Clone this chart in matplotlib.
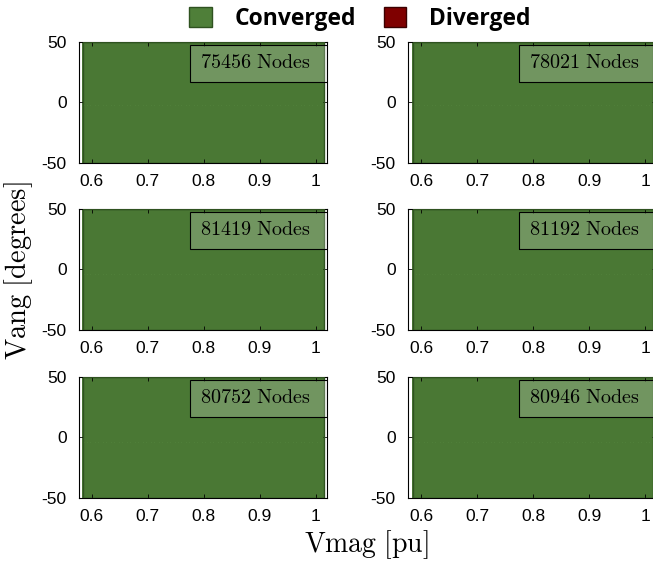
#!/usr/bin/env python3
"""Convergence region maps (Vmag x Vang) for six network sizes."""

import matplotlib

matplotlib.use("Agg")
import matplotlib.pyplot as plt
import numpy as np
from matplotlib.patches import Patch, Rectangle

# initial-condition sweep (every point converged in all six cases)
node_counts = [75456, 78021, 81419, 81192, 80752, 80946]
vmag_bounds = [0.585, 1.015]
vang_bounds = [-50, 50]
n_vmag = 90
n_vang = 60
statuses = ["converged"] * len(node_counts)

vmag_ticks = [0.6, 0.7, 0.8, 0.9, 1.0]
vmag_ticklabels = ["0.6", "0.7", "0.8", "0.9", "1"]
vang_ticks = [-50, 0, 50]

GREEN = "#4f7f39"
GREEN_EDGE = "#4a7834"
RED = "#7f0000"

plt.rcParams["axes.unicode_minus"] = False
plt.rcParams["mathtext.fontset"] = "cm"
plt.rcParams["font.family"] = ["Liberation Sans", "DejaVu Sans"]

fig = plt.figure(figsize=(6.53, 5.63), dpi=100)

col_left = [0.121, 0.625]
row_bottom = [0.7105, 0.4139, 0.1155]
ax_w, ax_h = 0.380, 0.215

for i, (nodes, status) in enumerate(zip(node_counts, statuses)):
    r, c = divmod(i, 2)
    ax = fig.add_axes([col_left[c], row_bottom[r], ax_w, ax_h])
    x_edges = np.linspace(vmag_bounds[0], vmag_bounds[1], n_vmag + 1)
    y_edges = np.linspace(vang_bounds[0], vang_bounds[1], n_vang + 1)
    grid = np.full((n_vang, n_vmag), 1.0 if status == "converged" else 0.0)
    cmap = matplotlib.colors.ListedColormap([RED, GREEN])
    ax.pcolormesh(x_edges, y_edges, grid, cmap=cmap, vmin=0, vmax=1,
                  edgecolors=GREEN_EDGE, linewidth=0.2)
    ax.add_patch(Rectangle((vmag_bounds[0], vang_bounds[0]),
                           vmag_bounds[1] - vmag_bounds[0],
                           vang_bounds[1] - vang_bounds[0],
                           fill=False, edgecolor="#2f5220", linewidth=1.0, zorder=3))
    ax.set_xlim(0.577, 1.02)
    ax.set_ylim(-50, 50)
    ax.set_xticks(vmag_ticks)
    ax.set_xticklabels(vmag_ticklabels)
    ax.set_yticks(vang_ticks)
    ax.tick_params(direction="in", length=3, width=0.6, labelsize=12.5,
                   top=True, right=True)
    ax.tick_params(axis="x", pad=8)
    ax.tick_params(axis="y", pad=9)
    for sp in ax.spines.values():
        sp.set_linewidth(0.8)

    ax.add_patch(Rectangle((0.448, 0.67), 0.552, 0.305, transform=ax.transAxes,
                           facecolor="white", alpha=0.22, edgecolor="none", zorder=4))
    ax.add_patch(Rectangle((0.448, 0.67), 0.552, 0.305, transform=ax.transAxes,
                           fill=False, edgecolor="black", linewidth=0.8, zorder=5))
    ax.text(0.71, 0.83, rf"$\mathrm{{{nodes}\ Nodes}}$", transform=ax.transAxes,
            ha="center", va="center", fontsize=14.5, zorder=6)

fig.text(0.029, 0.52, r"$\mathrm{Vang\ [degrees]}$", rotation=90,
         ha="center", va="center", fontsize=20.5)
fig.text(0.561, 0.032, r"$\mathrm{Vmag\ [pu]}$", ha="center", va="center", fontsize=20)

handles = [Patch(facecolor=GREEN, edgecolor="#2f5220", label="Converged"),
           Patch(facecolor=RED, edgecolor="#3a0000", label="Diverged")]
fig.legend(handles=handles, loc="upper center", bbox_to_anchor=(0.551, 1.025), ncol=2,
           frameon=False, handlelength=1.0, handleheight=1.0, handletextpad=1.0,
           columnspacing=1.2,
           prop={"family": "Open Sans", "weight": "bold", "size": 16.5})

fig.savefig("out.png", dpi=100)
